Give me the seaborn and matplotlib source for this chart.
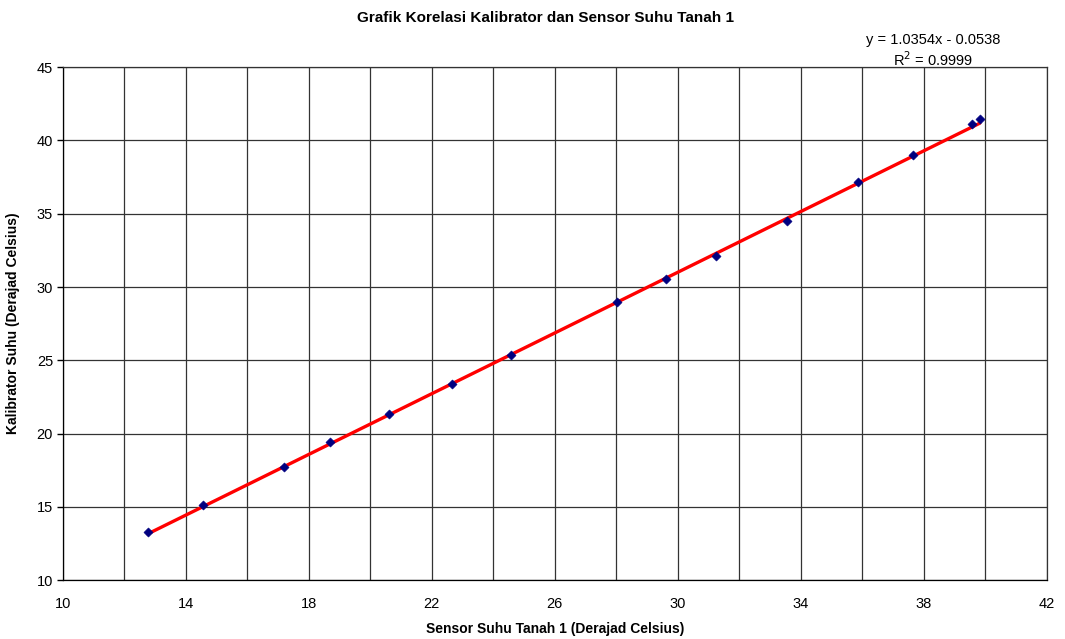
import matplotlib.pyplot as plt
import numpy as np
import seaborn as sns

# Readings of the sensor (x) and the calibrator (y), in degrees Celsius
sensor = [12.76, 14.55, 17.19, 18.68, 20.60, 22.65, 24.57, 28.02,
          29.61, 31.24, 33.54, 35.85, 37.64, 39.56, 39.82]
kalibrator = [13.27, 15.12, 17.71, 19.41, 21.32, 23.37, 25.35, 28.96,
              30.53, 32.10, 34.52, 37.15, 38.99, 41.11, 41.45]
# Trendline as printed on the chart
slope, intercept, r2 = 1.0354, -0.0538, 0.9999

sns.set_theme(style="white")
plt.rcParams['font.family'] = ['Liberation Sans', 'DejaVu Sans']
plt.rcParams['text.color'] = 'black'
plt.rcParams['axes.labelcolor'] = 'black'

fig = plt.figure(figsize=(10.65, 6.39), dpi=100)
ax = fig.add_axes([0.059, 0.092, 0.924, 0.803])

trend_x = np.array([min(sensor), max(sensor)])
sns.lineplot(x=trend_x, y=slope * trend_x + intercept, ax=ax,
             color="#ff0000", linewidth=2.4, zorder=2)
sns.scatterplot(x=sensor, y=kalibrator, ax=ax, marker="D", s=22,
                color="#000080", edgecolor="#000080", zorder=3)

ax.set_xlim(10, 42)
ax.set_ylim(10, 45)
ax.set_xticks(range(10, 43, 4))
ax.set_xticks(range(10, 43, 2), minor=True)
ax.set_yticks(range(10, 46, 5))
ax.grid(True, which="both", color="#333333", linewidth=0.9)
ax.set_axisbelow(True)
ax.tick_params(axis="both", labelsize=10.5, colors="black")
ax.tick_params(axis="y", which="major", direction="out", length=4, width=1,
               left=True, pad=3)
ax.tick_params(axis="x", which="major", length=0, pad=12)
for side in ax.spines.values():
    side.set_color("#333333")
    side.set_linewidth(0.9)
ax.spines["bottom"].set_color("black")
ax.spines["left"].set_color("black")

ax.set_xlabel("Sensor Suhu Tanah 1 (Derajad Celsius)", fontsize=10,
              fontweight="bold", labelpad=8)
ax.set_ylabel("Kalibrator Suhu (Derajad Celsius)", fontsize=10,
              fontweight="bold", labelpad=12)
fig.text(0.512, 0.972, "Grafik Korelasi Kalibrator dan Sensor Suhu Tanah 1",
         ha="center", va="center", fontsize=11, fontweight="bold")
fig.text(0.876, 0.938, f"y = {slope}x - {abs(intercept)}", ha="center",
         va="center", fontsize=10.5)
fig.text(0.876, 0.906, f"R$^2$ = {r2}", ha="center", va="center",
         fontsize=10.5)

fig.savefig("out.png", dpi=100)
